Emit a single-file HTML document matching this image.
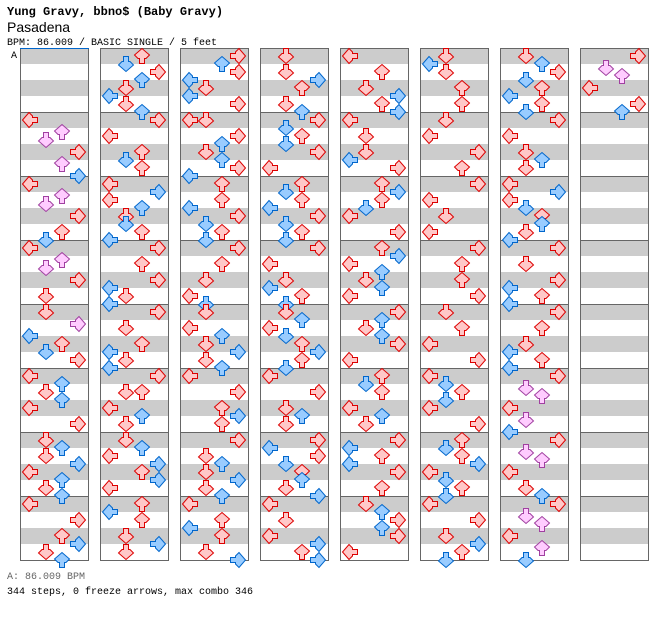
<!DOCTYPE html>
<html><head><meta charset="utf-8">
<style>
html,body{margin:0;padding:0;background:#fff;width:672px;height:620px;overflow:hidden}
svg{position:absolute;left:0;top:0}
</style></head>
<body>
<svg id="s" width="672" height="620" xmlns="http://www.w3.org/2000/svg">
<text x="7" y="15" font-family="Liberation Mono, monospace" font-weight="bold" font-size="12">Yung Gravy, bbno$ (Baby Gravy)</text>
<text x="7" y="32" font-family="Liberation Sans, sans-serif" font-size="14">Pasadena</text>
<text x="7" y="45" font-family="Liberation Mono, monospace" font-size="10">BPM: 86.009 / BASIC SINGLE / 5 feet</text>
<text x="11" y="58" font-family="Liberation Mono, monospace" font-size="10">A</text>
<text x="7" y="579" font-family="Liberation Mono, monospace" font-size="10" fill="#666">A: 86.009 BPM</text>
<text x="7" y="594" font-family="Liberation Mono, monospace" font-size="10">344 steps, 0 freeze arrows, max combo 346</text>
<g id="g"></g>
</svg>
<script>
var data=[
"16L 19U 21D 24R 27U 30R 32L 35U 37D 40R 44U 46D 48L 51U 53D 56R 60D 64D 67R 70L 72U 74D 76R 80L 82U 84D 86U 88L 92R 96D 98U 100D 102R 104L 106U 108D 110U 112L 116R 120U 122R 124D 126U",
"0U 2D 4R 6U 8D 10L 12D 14U 16R 20L 24U 26D 28U 32L 34R 36L 38U 40D 42D 44U 46L 48R 52U 56R 58L 60D 62L 64R 68D 72U 74L 76D 78L 80R 84D 84U 88L 90U 92D 96D 98U 100L 102R 104U 106R 108L 112U 114L 116U 120D 122R 124D",
"0R 2U 4R 6L 8D 10L 12R 16L 16D 20R 22U 24D 26U 28R 30L 32U 36U 38L 40R 42D 44U 46D 48R 52U 56D 60L 62D 64D 68L 70U 72D 74R 76D 78U 80L 84R 88U 90R 92U 96R 100D 102U 104D 106R 108D 110U 112L 116U 118L 120U 124D 126R",
"0D 4D 6R 8U 12D 14U 16R 18D 20U 22D 24R 28L 32U 34D 36U 38L 40R 42D 44U 46D 48R 52L 56D 58L 60U 62D 64D 66U 68L 70D 72U 74R 76U 78D 80L 84R 88D 90U 92D 96R 98L 100R 102D 104U 106U 108D 110R 112L 116D 120L 122R 124U 126R",
"0L 4U 8D 10R 12U 14R 16L 20D 24D 26L 28R 32U 34R 36U 38D 40L 44R 48U 50R 52L 54U 56D 58U 60L 64R 66U 68D 70U 72R 76L 80U 82D 84U 88L 90U 92D 96R 98L 100U 102L 104R 108U 112D 114U 116R 118U 120R 124L",
"0D 2L 4D 8U 12U 16D 20L 24R 28U 32R 36L 40D 44L 48R 52U 56U 60R 64D 68U 72L 76R 80L 82D 84U 86D 88L 92R 96U 98D 100U 102R 104L 106D 108U 110D 112L 116R 120D 122R 124U 126D",
"0D 2U 4R 6D 8U 10L 12U 14D 16R 20L 24D 26U 28D 32L 34R 36L 38D 40U 42U 44D 46L 48R 52D 56R 58L 60U 62L 64R 68U 72D 74L 76U 78L 80R 83D 85U 88L 91D 94L 96R 99D 101U 104L 108D 110U 112R 115D 117U 120L 123U 126D",
"0R 3D 5U 8L 12R 14U"
];
var g=document.getElementById("g"),h="";
var rot={L:90,D:0,U:180,R:270},lane={L:0,D:1,U:2,R:3};
for(var c=0;c<8;c++){
 var x=20+80*c;
 for(var m=0;m<8;m++){var y=48+64*m;
  h+='<rect x="'+(x+0.5)+'" y="'+y+'" width="68" height="16" fill="#cccccc"/>';
  h+='<rect x="'+(x+0.5)+'" y="'+(y+32)+'" width="68" height="16" fill="#cccccc"/>';
  if(m>0)h+='<line x1="'+x+'" x2="'+(x+69)+'" y1="'+(y+0.5)+'" y2="'+(y+0.5)+'" stroke="#666"/>';
 }
 h+='<rect x="'+(x+0.5)+'" y="48.5" width="68" height="512" fill="none" stroke="#666"/>';
}
h+='<line x1="20" x2="89" y1="48.5" y2="48.5" stroke="#0066cc"/>';
var P="M5.5,0.5 H10.5 V5.5 H12 L15.5,9 L8,15.5 L0.5,9 L4,5.5 H5.5 Z";
for(var c=0;c<data.length;c++){
 var items=data[c].split(" ");
 for(var i=0;i<items.length;i++){
  var s=items[i],n=parseInt(s),d=s.slice(-1);
  var fill,st;
  if(n%4==0){fill="#ffc8c8";st="#dd0000";}
  else if(n%2==0){fill="#99ccff";st="#0066cc";}
  else{fill="#ffccff";st="#a040a0";}
  var ax=22+80*c+16*lane[d],ay=48+4*n;
  h+='<path d="'+P+'" fill="'+fill+'" stroke="'+st+'" stroke-width="1" transform="translate('+ax+','+ay+') rotate('+rot[d]+' 8 8)"/>';
 }
}
g.innerHTML=h;
</script>
</body></html>
